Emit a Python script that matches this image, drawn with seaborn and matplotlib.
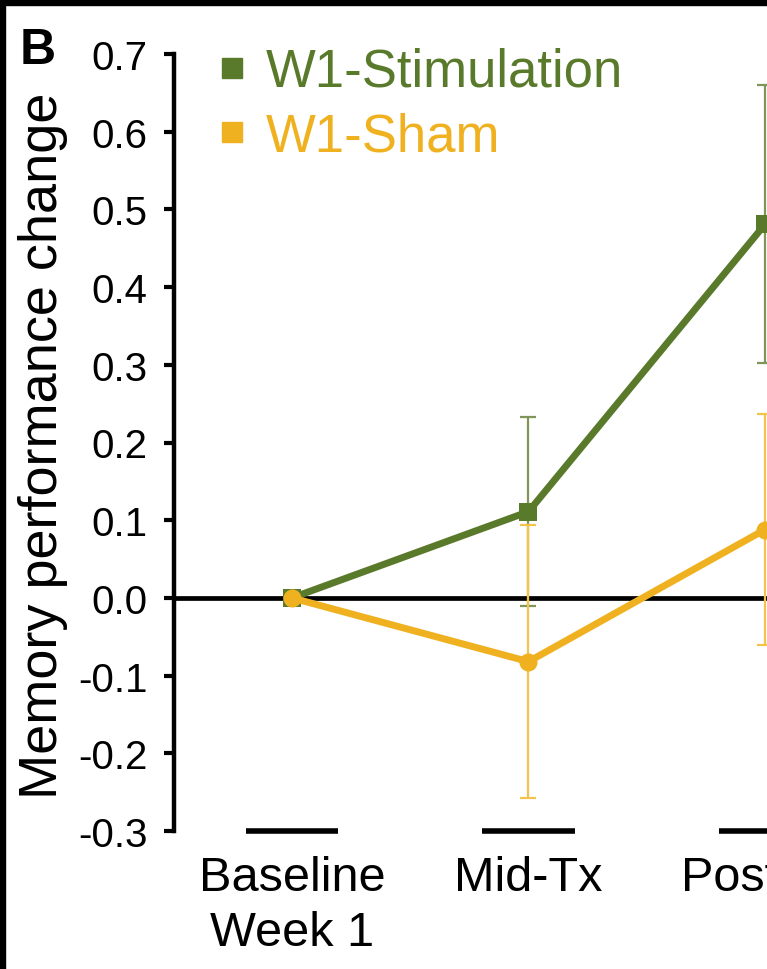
import matplotlib
matplotlib.use("Agg")
import matplotlib.pyplot as plt
from matplotlib.patches import Rectangle
from matplotlib.lines import Line2D
import seaborn as sns
import pandas as pd

# ---- data ----
categories = ["Baseline\nWeek 1", "Mid-Tx", "Post-Tx"]
stim_mean = [0.0, 0.111, 0.481]
stim_err = [0.0, 0.122, 0.179]
sham_mean = [0.0, -0.082, 0.088]
sham_err = [0.0, 0.176, 0.149]
series_names = ["W1-Stimulation", "W1-Sham"]
yticks = [-0.3, -0.2, -0.1, 0.0, 0.1, 0.2, 0.3, 0.4, 0.5, 0.6, 0.7]

GREEN = "#5a7a2b"
GREEN_ERR = "#7f9658"
YELLOW = "#efb120"
YELLOW_ERR = "#f3c34c"

sns.set_style("white")
plt.rcParams["font.family"] = ["Liberation Sans", "DejaVu Sans"]
plt.rcParams["text.color"] = "black"
plt.rcParams["axes.labelcolor"] = "black"
plt.rcParams["xtick.color"] = "black"
plt.rcParams["ytick.color"] = "black"

W, H = 767, 970
fig = plt.figure(figsize=(W / 100, H / 100), dpi=100)
fig.patch.set_facecolor("white")

left_px, right_px, top_px, bot_px = 174, 767, 55, 832
ax = fig.add_axes([left_px / W, 1 - bot_px / H, (right_px - left_px) / W, (bot_px - top_px) / H])

xpos = list(range(len(categories)))
df = pd.DataFrame({
    "x": xpos * 2,
    "y": stim_mean + sham_mean,
    "series": [series_names[0]] * 3 + [series_names[1]] * 3,
})

# zero line
ax.axhline(0, color="black", lw=3.4, zorder=1)

# error bars
ax.errorbar(xpos, stim_mean, yerr=stim_err, fmt="none", ecolor=GREEN_ERR,
            elinewidth=1.6, capsize=6, capthick=1.6, zorder=2)
ax.errorbar(xpos, sham_mean, yerr=sham_err, fmt="none", ecolor=YELLOW_ERR,
            elinewidth=1.6, capsize=6, capthick=1.6, zorder=2)

sns.lineplot(data=df, x="x", y="y", hue="series", style="series",
             palette={series_names[0]: GREEN, series_names[1]: YELLOW},
             markers={series_names[0]: "s", series_names[1]: "o"},
             dashes=False, linewidth=5.0, markersize=13, markeredgewidth=0,
             ax=ax, legend=False, zorder=3)

ax.set_xlim(-0.498, 2.008)
ax.set_ylim(-0.3, 0.7)
ax.set_yticks(yticks)
ax.set_yticklabels([f"{v:.1f}" for v in yticks])
ax.set_xticks(xpos)
ax.set_xticklabels(categories, fontsize=35, linespacing=1.3)
ax.tick_params(axis="x", length=0, pad=17)
ax.tick_params(axis="y", length=7, width=3.0, labelsize=29, pad=12, direction="out", left=True)

for s in ["top", "right", "bottom"]:
    ax.spines[s].set_visible(False)
ax.spines["left"].set_linewidth(3.2)
ax.spines["left"].set_color("black")

# short black bars under each category
for x in xpos:
    ax.plot([x - 0.195, x + 0.195], [-0.3, -0.3], color="black", lw=4, clip_on=False,
            solid_capstyle="butt")

ax.set_xlabel("")
ax.set_ylabel("Memory performance change", fontsize=39)
ax.yaxis.set_label_coords(-0.178, 0.497)

# legend
handles = [Line2D([], [], linestyle="none", marker="s", markersize=15, color=GREEN),
           Line2D([], [], linestyle="none", marker="s", markersize=15, color=YELLOW)]
leg = ax.legend(handles, series_names, loc="upper left", bbox_to_anchor=(216 / W, 1 - 48 / H),
                bbox_transform=fig.transFigure, frameon=False, fontsize=38,
                handlelength=0.6, handletextpad=0.35, labelspacing=0.28, borderpad=0,
                borderaxespad=0)
for t, c in zip(leg.get_texts(), [GREEN, YELLOW]):
    t.set_color(c)

# panel letter
fig.text(20 / W, 1 - 64 / H, "B", fontsize=36, fontweight="bold", ha="left", va="baseline")

# black frame (top and left)
fig.add_artist(Rectangle((0, 1 - 6 / H), 1, 6 / H, transform=fig.transFigure,
                         color="black", zorder=10))
fig.add_artist(Rectangle((0, 0), 5 / W, 1, transform=fig.transFigure,
                         color="black", zorder=10))

fig.savefig("out.png", dpi=100, facecolor="white")
